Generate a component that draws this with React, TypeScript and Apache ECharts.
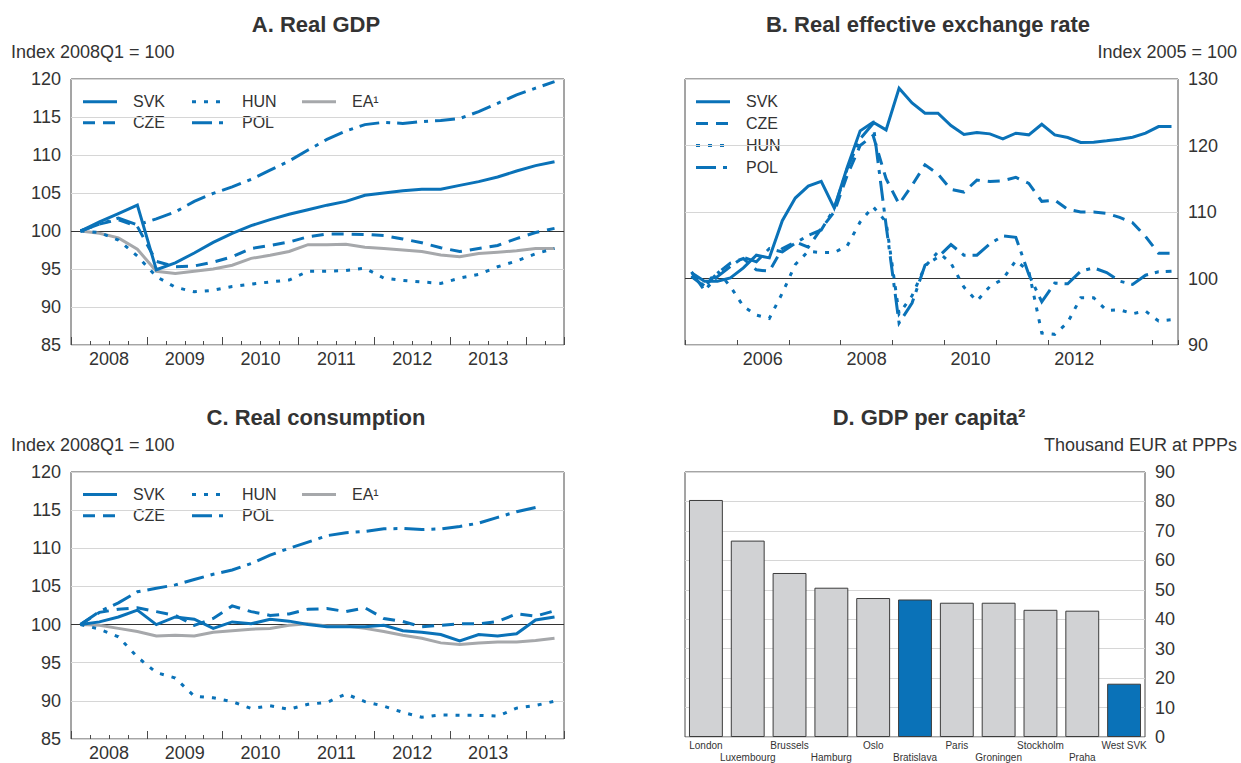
import React, { useEffect, useRef } from "react";
import * as echarts from "echarts";

const BLUE = "#0a72b8";
const GRAY_LINE = "#a6a8ab";
const BAR_GRAY = "#d1d2d4";
const BAR_BORDER = "#3c3c3c";
const TEXT = "#333333";
const FRAME = "#4a4a4a";
const GRIDLINE = "#d6d6d6";
const FONT = "'Liberation Sans', Arial, Helvetica, sans-serif";

// ---------- Panel A & C categories (quarterly, 2008Q1 - 2014Q2) ----------
const quartersAC = [
  "2008Q1", "2008Q2", "2008Q3", "2008Q4",
  "2009Q1", "2009Q2", "2009Q3", "2009Q4",
  "2010Q1", "2010Q2", "2010Q3", "2010Q4",
  "2011Q1", "2011Q2", "2011Q3", "2011Q4",
  "2012Q1", "2012Q2", "2012Q3", "2012Q4",
  "2013Q1", "2013Q2", "2013Q3", "2013Q4",
  "2014Q1", "2014Q2",
];

// ---------- Panel B categories (quarterly, 2005Q1 - 2014Q2) ----------
const quartersB = [
  "2005Q1", "2005Q2", "2005Q3", "2005Q4",
  "2006Q1", "2006Q2", "2006Q3", "2006Q4",
  "2007Q1", "2007Q2", "2007Q3", "2007Q4",
  "2008Q1", "2008Q2", "2008Q3", "2008Q4",
  "2009Q1", "2009Q2", "2009Q3", "2009Q4",
  "2010Q1", "2010Q2", "2010Q3", "2010Q4",
  "2011Q1", "2011Q2", "2011Q3", "2011Q4",
  "2012Q1", "2012Q2", "2012Q3", "2012Q4",
  "2013Q1", "2013Q2", "2013Q3", "2013Q4",
  "2014Q1", "2014Q2",
];

// ---------- A. Real GDP (Index 2008Q1 = 100) ----------
const gdpSVK = [100, 101.2, 102.3, 103.4, 94.9, 95.8, 97.1, 98.5, 99.7, 100.7, 101.5, 102.2, 102.8, 103.4, 103.9, 104.7, 105.0, 105.3, 105.5, 105.5, 106.0, 106.5, 107.1, 107.9, 108.6, 109.1];
const gdpCZE = [100, 100.9, 101.5, 100.6, 96.0, 95.3, 95.4, 95.9, 96.6, 97.7, 98.1, 98.55, 99.25, 99.6, 99.6, 99.55, 99.4, 98.95, 98.45, 97.8, 97.3, 97.7, 98.1, 99.0, 99.8, 100.35];
const gdpHUN = [100, 99.8, 98.8, 96.7, 94.0, 92.6, 92.0, 92.2, 92.7, 93.0, 93.3, 93.55, 94.7, 94.7, 94.8, 95.1, 93.8, 93.5, 93.3, 93.1, 93.8, 94.3, 95.3, 96.05, 97.0, 97.7];
const gdpPOL = [100, 100.9, 101.7, 100.8, 101.6, 102.5, 103.9, 104.95, 105.8, 106.8, 108.0, 109.2, 110.65, 112.05, 113.15, 114.0, 114.3, 114.15, 114.4, 114.55, 114.8, 115.7, 116.8, 117.9, 118.8, 119.65];
const gdpEA = [100, 99.7, 99.1, 97.6, 94.7, 94.4, 94.7, 95.0, 95.5, 96.4, 96.8, 97.3, 98.2, 98.2, 98.25, 97.85, 97.7, 97.5, 97.3, 96.85, 96.6, 97.05, 97.2, 97.4, 97.7, 97.7];

// ---------- B. Real effective exchange rate (Index 2005 = 100) ----------
const reerSVK = [100.85, 99.6, 99.6, 100.1, 101.6, 103.5, 103.1, 108.7, 112.1, 113.9, 114.6, 110.6, 116.7, 122.2, 123.5, 122.35, 128.6, 126.4, 124.85, 124.85, 123.0, 121.65, 121.95, 121.75, 121.0, 121.85, 121.6, 123.2, 121.6, 121.2, 120.45, 120.5, 120.7, 120.95, 121.25, 121.85, 122.85, 122.85];
const reerCZE = [100.3, 98.8, 100.8, 102.3, 103.0, 101.3, 101.1, 104.5, 105.5, 104.7, 107.5, 110.0, 115.5, 120.0, 121.5, 115.0, 111.2, 114.0, 117.1, 115.7, 113.4, 113.0, 114.8, 114.6, 114.7, 115.2, 114.3, 111.6, 111.8, 110.4, 110.0, 110.0, 109.8, 109.2, 108.4, 106.3, 103.8, 103.8];
const reerHUN = [100.4, 98.9, 101.1, 98.8, 95.8, 94.5, 94.0, 97.8, 102.1, 104.1, 103.9, 103.9, 104.9, 108.5, 110.8, 108.5, 94.7, 97.4, 101.8, 104.0, 102.3, 98.7, 96.6, 98.8, 99.9, 102.7, 101.1, 91.8, 91.6, 93.4, 97.1, 97.1, 95.2, 95.3, 94.7, 95.1, 93.6, 93.8];
const reerPOL = [101.0, 98.2, 100.3, 101.8, 103.2, 102.5, 104.5, 104.0, 105.3, 106.5, 107.3, 110.5, 116.5, 121.0, 123.3, 108.0, 93.3, 96.3, 102.0, 103.2, 105.1, 103.5, 103.5, 105.2, 106.4, 106.2, 100.6, 96.5, 99.3, 99.2, 101.1, 101.6, 100.9, 99.6, 99.1, 100.5, 101.0, 101.1];

// ---------- C. Real consumption (Index 2008Q1 = 100) ----------
const consSVK = [100, 100.35, 101.0, 101.9, 100.0, 101.0, 100.7, 99.5, 100.35, 100.1, 100.7, 100.45, 100.0, 99.7, 99.7, 99.7, 99.9, 99.2, 99.0, 98.7, 97.85, 98.7, 98.5, 98.8, 100.6, 101.0];
const consCZE = [100, 101.6, 102.0, 102.2, 101.7, 101.2, 99.9, 100.8, 102.45, 101.7, 101.2, 101.4, 102.0, 102.1, 101.7, 102.2, 100.8, 100.4, 99.7, 99.9, 100.1, 100.1, 100.4, 101.4, 101.1, 101.8];
const consHUN = [100, 99.4, 98.4, 95.75, 93.7, 93.0, 90.6, 90.4, 89.9, 89.0, 89.35, 88.9, 89.55, 89.8, 90.9, 89.9, 89.3, 88.5, 87.85, 88.15, 88.1, 88.1, 88.0, 89.05, 89.4, 89.95];
const consPOL = [100, 101.7, 102.85, 104.3, 104.75, 105.2, 105.9, 106.6, 107.15, 108.0, 109.1, 110.0, 110.8, 111.65, 112.05, 112.2, 112.55, 112.6, 112.45, 112.55, 112.85, 113.3, 114.05, 114.8, 115.35, null];
const consEA = [100, 99.9, 99.5, 99.1, 98.5, 98.6, 98.5, 99.0, 99.2, 99.4, 99.5, 99.9, 100.1, 99.8, 99.8, 99.5, 99.1, 98.6, 98.2, 97.6, 97.4, 97.6, 97.7, 97.7, 97.9, 98.2];

// ---------- D. GDP per capita (Thousand EUR at PPPs) ----------
const cities = ["London", "Luxembourg", "Brussels", "Hamburg", "Oslo", "Bratislava", "Paris", "Groningen", "Stockholm", "Praha", "West SVK"];
const gdpPerCapita = [80.5, 66.7, 55.7, 50.7, 47.2, 46.7, 45.6, 45.6, 43.2, 42.9, 18.1];
const highlighted = ["Bratislava", "West SVK"];

// tick labels
const ticksAC = [85, 90, 95, 100, 105, 110, 115, 120];
const ticksB = [90, 100, 110, 120, 130];
const ticksD = [0, 90];

const STYLES: Record<string, { color: string; type: any }> = {
  SVK: { color: BLUE, type: "solid" },
  CZE: { color: BLUE, type: [12, 8] },
  HUN: { color: BLUE, type: [4, 8] },
  POL: { color: BLUE, type: [20, 7, 4, 7] },
  "EA\u00b9": { color: GRAY_LINE, type: "solid" },
};

function lineSeries(name: string, data: (number | null)[], xi: number, yi: number, z: number, withRef = false) {
  const st = STYLES[name];
  const s: any = {
    type: "line",
    name,
    data,
    xAxisIndex: xi,
    yAxisIndex: yi,
    symbol: "none",
    showSymbol: false,
    connectNulls: false,
    silent: true,
    z,
    lineStyle: { color: st.color, width: 3, type: st.type, cap: "butt", join: "miter" },
    emphasis: { disabled: true },
  };
  if (withRef) {
    s.markLine = {
      silent: true,
      symbol: ["none", "none"],
      label: { show: false },
      lineStyle: { color: "#333", width: 1, type: "solid" },
      data: [{ yAxis: 100 }],
      z: 1,
    };
  }
  return s;
}

function legendItem(name: string, x: number, y: number) {
  const st = STYLES[name];
  return [
    {
      type: "line",
      shape: { x1: x, y1: y, x2: x + 34, y2: y },
      style: { stroke: st.color, lineWidth: 3, lineDash: Array.isArray(st.type) ? st.type : null },
      silent: true,
    },
    {
      type: "text",
      x: x + 50,
      y,
      style: { text: name, fill: TEXT, fontSize: 16, fontFamily: FONT, align: "left", verticalAlign: "middle" },
      silent: true,
    },
  ];
}

function textEl(text: string, x: number, y: number, size: number, align: string, bold = false) {
  return {
    type: "text",
    x,
    y,
    silent: true,
    style: {
      text,
      fill: TEXT,
      fontSize: size,
      fontWeight: bold ? "bold" : "normal",
      fontFamily: FONT,
      align,
      verticalAlign: "middle",
    },
  };
}

const GRID_H_TOP = 266;
const GRID_H_BOT = 267;

function catAxisMain(grid: number, data: string[], bandShift: number, labelEvery: (i: number) => boolean, tickEvery: any, tickLen: number): any {
  return {
    type: "category",
    gridIndex: grid,
    data,
    boundaryGap: true,
    position: "bottom",
    axisLine: { show: false },
    axisTick: { show: true, interval: tickEvery, length: tickLen, inside: true, lineStyle: { color: FRAME, width: 1 } },
    axisLabel: {
      show: true,
      interval: (i: number) => labelEvery(i),
      formatter: (v: string) => v.slice(0, 4),
      padding: [0, bandShift, 0, 0],
      color: TEXT,
      fontSize: 18,
      fontFamily: FONT,
      margin: 5,
    },
    splitLine: { show: false },
  };
}

function catAxisMajor(grid: number, data: string[], h: number): any {
  return {
    type: "category",
    gridIndex: grid,
    data,
    boundaryGap: true,
    position: "top",
    offset: -h,
    axisLine: { show: false },
    axisTick: { show: true, interval: (i: number) => i % 4 === 0, length: 8, inside: false, lineStyle: { color: FRAME, width: 1 } },
    axisLabel: { show: false },
    splitLine: { show: false },
  };
}

function valAxis(grid: number, ticks: number[], interval: number, position: string): any {
  return {
    type: "value",
    gridIndex: grid,
    min: ticks[0],
    max: ticks[ticks.length - 1],
    interval,
    position,
    axisLine: { show: false },
    axisTick: { show: false },
    axisLabel: { color: TEXT, fontSize: 18, fontFamily: FONT, margin: 10, showMinLabel: true, showMaxLabel: true },
    splitLine: { show: true, lineStyle: { color: GRIDLINE, width: 1 } },
  };
}

export default function App() {
  const ref = useRef<HTMLDivElement>(null);

  useEffect(() => {
    if (!ref.current) return;
    const chart = echarts.init(ref.current, null, { renderer: "svg" });

    const gridBase = { show: true, borderColor: FRAME, borderWidth: 1, backgroundColor: "transparent", containLabel: false };

    const option: any = {
      animation: false,
      backgroundColor: "#ffffff",
      textStyle: { fontFamily: FONT },
      grid: [
        { ...gridBase, left: 71, top: 79, width: 493, height: GRID_H_TOP },
        { ...gridBase, left: 685, top: 79, width: 493, height: GRID_H_TOP },
        { ...gridBase, left: 71, top: 472, width: 493, height: GRID_H_BOT },
        { ...gridBase, left: 685, top: 472, width: 460, height: GRID_H_BOT },
      ],
      xAxis: [
        catAxisMain(0, quartersAC, 19, (i) => i % 4 === 2 && i < 24, 0, 4),
        catAxisMajor(0, quartersAC, GRID_H_TOP),
        catAxisMain(1, quartersB, 13, (i) => i % 8 === 6, (i: number) => i % 4 === 0, 5),
        catAxisMain(2, quartersAC, 19, (i) => i % 4 === 2 && i < 24, 0, 4),
        catAxisMajor(2, quartersAC, GRID_H_BOT),
        {
          type: "category",
          gridIndex: 3,
          data: cities,
          boundaryGap: true,
          axisLine: { show: false },
          axisTick: { show: false },
          axisLabel: {
            interval: 0,
            color: TEXT,
            fontSize: 10,
            lineHeight: 12,
            fontFamily: FONT,
            margin: 2,
            formatter: (v: string, i: number) => (i % 2 === 1 ? "\n" + v : v),
          },
          splitLine: { show: false },
        },
      ],
      yAxis: [
        valAxis(0, ticksAC, 5, "left"),
        valAxis(1, ticksB, 10, "right"),
        valAxis(2, ticksAC, 5, "left"),
        valAxis(3, ticksD, 10, "right"),
      ],
      series: [
        // Panel A
        lineSeries("EA\u00b9", gdpEA, 0, 0, 2, true),
        lineSeries("HUN", gdpHUN, 0, 0, 3),
        lineSeries("POL", gdpPOL, 0, 0, 3),
        lineSeries("CZE", gdpCZE, 0, 0, 3),
        lineSeries("SVK", gdpSVK, 0, 0, 4),
        // Panel B
        lineSeries("HUN", reerHUN, 2, 1, 3, true),
        lineSeries("POL", reerPOL, 2, 1, 3),
        lineSeries("CZE", reerCZE, 2, 1, 3),
        lineSeries("SVK", reerSVK, 2, 1, 4),
        // Panel C
        lineSeries("EA\u00b9", consEA, 3, 2, 2, true),
        lineSeries("HUN", consHUN, 3, 2, 3),
        lineSeries("POL", consPOL, 3, 2, 3),
        lineSeries("CZE", consCZE, 3, 2, 3),
        lineSeries("SVK", consSVK, 3, 2, 4),
        // Panel D
        {
          type: "bar",
          name: "GDP per capita",
          xAxisIndex: 5,
          yAxisIndex: 3,
          barCategoryGap: "19%",
          silent: true,
          z: 3,
          data: gdpPerCapita.map((v, i) => ({
            value: v,
            itemStyle: {
              color: highlighted.includes(cities[i]) ? BLUE : BAR_GRAY,
              borderColor: BAR_BORDER,
              borderWidth: 1,
            },
          })),
        },
      ],
      graphic: [
        textEl("A. Real GDP", 316, 24.5, 22, "center", true),
        textEl("B. Real effective exchange rate", 928, 24.5, 22, "center", true),
        textEl("C. Real consumption", 316, 417.5, 22, "center", true),
        textEl("D. GDP per capita\u00b2", 929, 417.5, 22, "center", true),
        textEl("Index 2008Q1 = 100", 11, 52, 18, "left"),
        textEl("Index 2005 = 100", 1237, 52, 18, "right"),
        textEl("Index 2008Q1 = 100", 11, 445, 18, "left"),
        textEl("Thousand EUR at PPPs", 1237, 445, 18, "right"),
        // legend A
        ...legendItem("SVK", 83, 101.7),
        ...legendItem("HUN", 192, 101.7),
        ...legendItem("EA\u00b9", 302, 101.7),
        ...legendItem("CZE", 83, 122.7),
        ...legendItem("POL", 192, 122.7),
        // legend B
        ...legendItem("SVK", 696, 101.7),
        ...legendItem("CZE", 696, 123.5),
        ...legendItem("HUN", 696, 145.5),
        ...legendItem("POL", 696, 167.5),
        // legend C
        ...legendItem("SVK", 83, 494.5),
        ...legendItem("HUN", 192, 494.5),
        ...legendItem("EA\u00b9", 302, 494.5),
        ...legendItem("CZE", 83, 515.7),
        ...legendItem("POL", 192, 515.7),
      ],
    };

    chart.setOption(option);
    return () => chart.dispose();
  }, []);

  return (
    <div
      ref={ref}
      style={{ position: "fixed", left: 0, top: 0, width: 1241, height: 763, background: "#fff" }}
    />
  );
}
